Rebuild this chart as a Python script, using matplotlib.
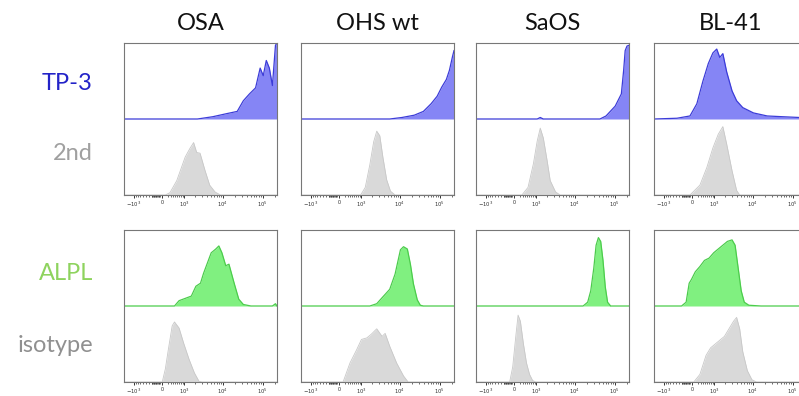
import numpy as np
import matplotlib.pyplot as plt
from matplotlib.ticker import FixedLocator

plt.rcParams['font.family'] = ['Lato', 'DejaVu Sans']

cell_lines = ['OSA', 'OHS wt', 'SaOS', 'BL-41']
stain_labels = [('TP-3', '2nd'), ('ALPL', 'isotype')]
tick_vals = [-1e3, 0, 1e3, 1e4, 1e5]
tick_labels = [r'$-10^3$', '0', r'$10^3$', r'$10^4$', r'$10^5$']

# histograms: (display channel 0-100, normalised count)
osa_tp3 = [(0, 0), (48, 0), (58, 0.03), (67, 0.07), (74, 0.10), (78, 0.24), (82, 0.33),
           (86, 0.41), (89, 0.67), (91, 0.57), (93, 0.77), (95, 0.67), (97, 0.44),
           (99, 0.97), (100, 1.0)]
osa_2nd = [(0, 0), (27, 0), (30, 0.03), (34.5, 0.19), (40, 0.5), (43, 0.61), (45.5, 0.69),
           (47.5, 0.56), (49.7, 0.55), (53, 0.32), (56, 0.13), (59.5, 0.04), (63, 0), (100, 0)]
ohs_tp3 = [(0, 0), (58, 0), (66, 0.02), (74, 0.05), (80, 0.1), (85, 0.2), (89, 0.3),
           (92, 0.42), (95, 0.52), (97, 0.64), (99, 0.82), (100, 0.9)]
ohs_2nd = [(0, 0), (39, 0), (42, 0.1), (45, 0.4), (47.5, 0.7), (49.5, 0.84), (51.5, 0.78),
           (53.5, 0.5), (56, 0.2), (58.5, 0.05), (61.5, 0), (100, 0)]
saos_tp3 = [(0, 0), (40, 0), (42, 0.02), (44, 0), (81, 0), (85, 0.04), (91, 0.17),
            (95, 0.33), (96.5, 0.64), (97.5, 0.9), (98.7, 0.96), (100, 0.97)]
saos_2nd = [(0, 0), (30, 0), (34, 0.1), (37.5, 0.41), (40, 0.71), (42, 0.88), (44, 0.75),
            (46.5, 0.45), (48.5, 0.19), (52, 0.04), (55, 0), (100, 0)]
bl41_tp3 = [(0, 0), (15, 0.01), (23.5, 0.04), (28, 0.2), (32, 0.5), (35.5, 0.73),
            (38.5, 0.87), (41, 0.92), (43, 0.81), (45, 0.86), (47.5, 0.62), (51, 0.37),
            (54, 0.24), (58, 0.15), (65, 0.08), (74, 0.04), (84, 0.03), (95, 0.02), (100, 0.02)]
bl41_2nd = [(0, 0), (23.5, 0), (30, 0.13), (34.5, 0.36), (38.5, 0.62), (42, 0.8), (45, 0.9),
            (47.5, 0.67), (51, 0.32), (54, 0.06), (56, 0), (100, 0)]

osa_alpl = [(0, 0), (33, 0), (36, 0.07), (44, 0.13), (47, 0.26), (50, 0.3), (52, 0.43),
            (57, 0.7), (60, 0.75), (62, 0.79), (64, 0.7), (66.5, 0.53), (68.6, 0.55),
            (72, 0.3), (75, 0.09), (78, 0.02), (83, 0), (97, 0), (99, 0.03), (100, 0)]
osa_iso = [(0, 0), (25, 0), (27, 0.17), (29, 0.43), (31.5, 0.74), (33, 0.79), (36, 0.71),
           (39, 0.51), (42.5, 0.3), (46, 0.12), (49, 0.01), (51, 0), (100, 0)]
ohs_alpl = [(0, 0), (45, 0), (49.5, 0.03), (53.5, 0.12), (58, 0.22), (61.5, 0.42),
            (65, 0.74), (67, 0.78), (69.5, 0.75), (71.5, 0.55), (73.5, 0.29), (76, 0.08),
            (78, 0.01), (80, 0), (100, 0)]
ohs_iso = [(0, 0), (27.5, 0), (32, 0.25), (36.5, 0.43), (39.5, 0.56), (43, 0.58),
           (46, 0.63), (49.5, 0.7), (53, 0.6), (55, 0.64), (58, 0.47), (62.5, 0.25),
           (67, 0.08), (70, 0), (100, 0)]
saos_alpl = [(0, 0), (70, 0), (73, 0.05), (75, 0.2), (77, 0.5), (78.5, 0.8), (80, 0.9),
             (81.5, 0.85), (83, 0.6), (84.5, 0.25), (86, 0.05), (88, 0), (100, 0)]
saos_iso = [(0, 0), (22, 0), (24, 0.2), (26, 0.6), (27.5, 0.88), (29, 0.8), (31, 0.5),
            (33, 0.25), (35, 0.1), (37, 0.02), (39, 0), (100, 0)]
bl41_alpl = [(0, 0), (18, 0), (21, 0.05), (23, 0.3), (24.5, 0.35), (27, 0.45), (30, 0.52),
             (33, 0.6), (36, 0.63), (39, 0.7), (42, 0.75), (45, 0.8), (48, 0.85), (51, 0.87),
             (53, 0.8), (55, 0.5), (57, 0.2), (59, 0.05), (62, 0.01), (70, 0), (100, 0)]
bl41_iso = [(0, 0), (26, 0), (30, 0.1), (34, 0.35), (37, 0.45), (40, 0.5), (43, 0.55),
            (46, 0.6), (49, 0.7), (52, 0.8), (54, 0.85), (56, 0.7), (58, 0.4), (61, 0.15),
            (64, 0.03), (67, 0), (100, 0)]

top_hists = [[osa_tp3, ohs_tp3, saos_tp3, bl41_tp3], [osa_alpl, ohs_alpl, saos_alpl, bl41_alpl]]
bottom_hists = [[osa_2nd, ohs_2nd, saos_2nd, bl41_2nd], [osa_iso, ohs_iso, saos_iso, bl41_iso]]

fills = [('#8585f5', '#3c3cd8'), ('#80f080', '#4ccc4c')]
gray_fill, gray_edge = '#d9d9d9', '#c8c8c8'
label_colors = [('#2323c8', '#a0a0a0'), ('#8ed35e', '#909090')]


def chan(v):
    # biexponential-like display: value -> channel 0..100
    v = np.asarray(v, float)
    k = np.where(v < 0, 33.0, 26.0)
    return 25 + k * np.arcsinh(v / 600) / np.log(10)


minor_vals = np.concatenate([np.arange(-300, -50, 20), np.arange(-900, -300, 100),
                             np.arange(200, 1000, 100), np.arange(2e3, 1e4, 1e3),
                             np.arange(2e4, 1e5, 1e4), [2e5]])

W, H = 799, 396
col_left = [124, 301, 476, 654]
row_bottom = [195, 382]
ax_w, ax_h = 153, 152

fig = plt.figure(figsize=(W / 100, H / 100), dpi=100)

for r in range(2):
    for c in range(4):
        ax = fig.add_axes([col_left[c] / W, 1 - row_bottom[r] / H, ax_w / W, ax_h / H])
        top = np.array(top_hists[r][c])
        bot = np.array(bottom_hists[r][c])
        fc, ec = fills[r]
        ax.fill_between(top[:, 0], 1, 1 + top[:, 1], color=fc, lw=0)
        ax.plot(top[:, 0], 1 + top[:, 1], color=ec, lw=0.9)
        ax.fill_between(bot[:, 0], 0, bot[:, 1], color=gray_fill, lw=0)
        ax.plot(bot[:, 0], bot[:, 1], color=gray_edge, lw=0.6)
        ax.set_xlim(0, 100)
        ax.set_ylim(0, 2)
        ax.set_yticks([])
        ax.set_xticks(chan(tick_vals))
        ax.set_xticklabels(tick_labels)
        ax.xaxis.set_minor_locator(FixedLocator(chan(minor_vals)))
        ax.tick_params(axis='x', which='major', length=2.5, width=0.7, pad=1.0,
                       labelsize=3.8, colors='#333333')
        ax.tick_params(axis='x', which='minor', length=1.5, width=0.5, colors='#333333')
        for s in ax.spines.values():
            s.set_color('#777777')
            s.set_linewidth(0.8)

for c, name in enumerate(cell_lines):
    fig.text((col_left[c] + ax_w / 2) / W, 1 - 23 / H, name, ha='center', va='center',
             fontsize=17, color='#111111')

label_y = [(84, 153), (273, 346)]
for r in range(2):
    for i in range(2):
        fig.text(93 / W, 1 - label_y[r][i] / H, stain_labels[r][i], ha='right', va='center',
                 fontsize=17, color=label_colors[r][i])

fig.savefig('out.png', dpi=100)
